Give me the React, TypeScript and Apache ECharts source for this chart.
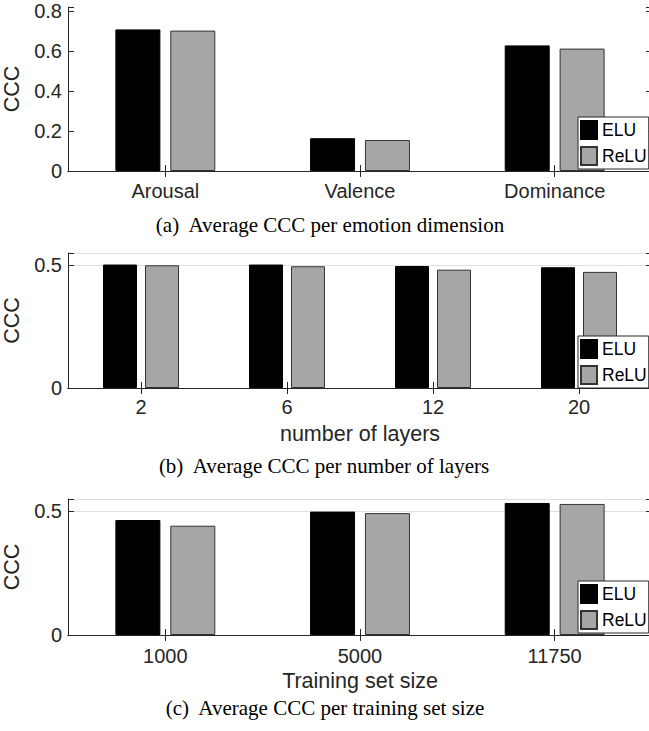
import React, { useEffect, useRef } from "react";
import * as echarts from "echarts";

// ---- data ----
const catsA = ["Arousal", "Valence", "Dominance"];
const eluA = [0.708, 0.164, 0.628];
const reluA = [0.702, 0.155, 0.612];
const yTicksA = [0, 0.2, 0.4, 0.6, 0.8];

const catsB = ["2", "6", "12", "20"];
const eluB = [0.503, 0.503, 0.497, 0.492];
const reluB = [0.5, 0.496, 0.482, 0.473];
const yTicksB = [0, 0.5];

const catsC = ["1000", "5000", "11750"];
const eluC = [0.465, 0.499, 0.534];
const reluC = [0.442, 0.493, 0.53];
const yTicksC = [0, 0.5];

const seriesNames = ["ELU", "ReLU"];
const yName = "CCC";
const xNames = ["", "number of layers", "Training set size"];
const captions = [
  "(a)  Average CCC per emotion dimension",
  "(b)  Average CCC per number of layers",
  "(c)  Average CCC per training set size",
];

// ---- layout / style ----
const SANS = "'Liberation Sans', Arial, Helvetica, sans-serif";
const SERIF = "'Liberation Serif', 'Times New Roman', Times, serif";
const AX = "#262626";
const GRID_LEFT = 68;
const GRID_WIDTH = 584;

const panels = [
  { cats: catsA, elu: eluA, relu: reluA, ticks: yTicksA, max: 0.82, interval: 0.2, top: 7, bottom: 171, barWidth: 45, barGap: "22%", grid: false, margin: 10, legendTop: 117, capX: 330, capY: 225 },
  { cats: catsB, elu: eluB, relu: reluB, ticks: yTicksB, max: 0.55, interval: 0.5, top: 253, bottom: 388, barWidth: 34, barGap: "23.5%", grid: true, margin: 9, legendTop: 336, capX: 324, capY: 466 },
  { cats: catsC, elu: eluC, relu: reluC, ticks: yTicksC, max: 0.55, interval: 0.5, top: 499, bottom: 635, barWidth: 45, barGap: "22%", grid: true, margin: 11, legendTop: 581, capX: 325, capY: 708 },
];

function buildOption() {
  const grid: any[] = [];
  const xAxis: any[] = [];
  const yAxis: any[] = [];
  const series: any[] = [];
  const legend: any[] = [];
  const graphic: any[] = [];

  panels.forEach((p, i) => {
    grid.push({
      left: GRID_LEFT,
      top: p.top,
      width: GRID_WIDTH,
      height: p.bottom - p.top,
      containLabel: false,
      outerBoundsMode: "none",
    });
    const tickStyle = { color: AX, width: 1 };
    xAxis.push({
      type: "category",
      gridIndex: i,
      position: "bottom",
      data: p.cats,
      name: xNames[i],
      nameLocation: "middle",
      nameGap: 35,
      nameTextStyle: { fontFamily: SANS, fontSize: 21.5, color: AX },
      axisLine: { show: true, lineStyle: tickStyle },
      axisTick: { show: true, inside: true, alignWithLabel: true, length: 6, lineStyle: tickStyle },
      axisLabel: { show: true, margin: p.margin, fontFamily: SANS, fontSize: 20, color: AX, interval: 0 },
      splitLine: { show: false },
    });
    xAxis.push({
      type: "category",
      gridIndex: i,
      position: "top",
      data: p.cats,
      axisLine: { show: true, lineStyle: tickStyle },
      axisTick: { show: true, inside: true, alignWithLabel: true, length: 6, lineStyle: tickStyle },
      axisLabel: { show: false },
      splitLine: { show: false },
    });
    const ticks = p.ticks;
    yAxis.push({
      type: "value",
      gridIndex: i,
      position: "left",
      min: 0,
      max: p.max,
      interval: p.interval,
      name: yName,
      nameLocation: "middle",
      nameGap: 45,
      nameTextStyle: { fontFamily: SANS, fontSize: 21.5, color: AX },
      axisLine: { show: true, lineStyle: tickStyle },
      axisTick: { show: true, inside: true, length: 6, lineStyle: tickStyle },
      axisLabel: {
        show: true,
        margin: 6,
        fontFamily: SANS,
        fontSize: 20,
        color: AX,
        showMaxLabel: true,
        formatter: (v: number) => {
          const t = ticks.find((x) => Math.abs(x - v) < 1e-6);
          return t === undefined ? "" : String(t);
        },
      },
      splitLine: { show: p.grid, lineStyle: { color: "#dfdfdf", width: 1 } },
    });
    yAxis.push({
      type: "value",
      gridIndex: i,
      position: "right",
      min: 0,
      max: p.max,
      interval: p.interval,
      axisLine: { show: true, lineStyle: tickStyle },
      axisTick: { show: true, inside: true, length: 6, lineStyle: tickStyle },
      axisLabel: { show: false },
      splitLine: { show: false },
    });
    series.push({
      type: "bar",
      name: seriesNames[0],
      xAxisIndex: 2 * i,
      yAxisIndex: 2 * i,
      data: p.elu,
      barWidth: p.barWidth,
      barGap: p.barGap,
      itemStyle: { color: "#000000", borderColor: "#000000", borderWidth: 1 },
      emphasis: { disabled: true },
    });
    series.push({
      type: "bar",
      name: seriesNames[1],
      xAxisIndex: 2 * i,
      yAxisIndex: 2 * i,
      data: p.relu,
      barWidth: p.barWidth,
      barGap: p.barGap,
      itemStyle: { color: "#a6a6a6", borderColor: "#333333", borderWidth: 1 },
      emphasis: { disabled: true },
    });
    legend.push({
      orient: "vertical",
      left: 578,
      top: p.legendTop,
      data: seriesNames,
      icon: "rect",
      itemWidth: 16,
      itemHeight: 18,
      itemGap: 6,
      padding: [3, 2, 3, 2],
      backgroundColor: "#ffffff",
      borderColor: AX,
      borderWidth: 1,
      borderRadius: 0,
      selectedMode: false,
      textStyle: { fontFamily: SANS, fontSize: 17.5, color: "#000" },
    });
    graphic.push({
      type: "text",
      x: p.capX,
      y: p.capY,
      style: {
        text: captions[i],
        fontFamily: SERIF,
        fontSize: 21,
        fill: "#000",
        textAlign: "center",
        textVerticalAlign: "middle",
      },
    });
  });

  return {
    animation: false,
    backgroundColor: "#ffffff",
    grid,
    xAxis,
    yAxis,
    series,
    legend,
    graphic,
    tooltip: { show: false },
  };
}

if (typeof document !== "undefined") {
  document.body.style.margin = "0";
  document.body.style.overflow = "hidden";
  document.documentElement.style.overflow = "hidden";
}

export default function App() {
  const ref = useRef<HTMLDivElement>(null);
  useEffect(() => {
    document.body.style.margin = "0";
    document.body.style.overflow = "hidden";
    document.documentElement.style.overflow = "hidden";
    if (!ref.current) return;
    const chart = echarts.init(ref.current, undefined, { renderer: "svg", width: 649, height: 731 });
    chart.setOption(buildOption() as any);
    return () => chart.dispose();
  }, []);
  return <div ref={ref} style={{ width: 649, height: 731, background: "#fff", margin: 0 }} />;
}
